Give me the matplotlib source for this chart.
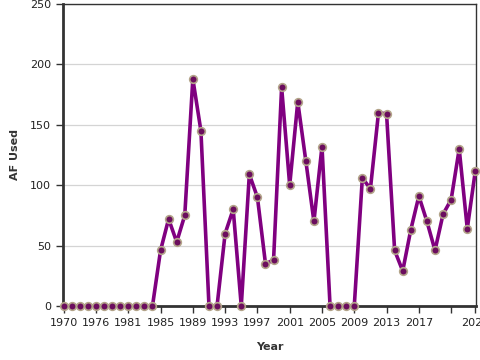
import matplotlib
matplotlib.use('Agg')
import matplotlib.pyplot as plt

years = [1970, 1972, 1974, 1975, 1976, 1977, 1978, 1980, 1981, 1982, 1983, 1984] + list(range(1985, 2025))
af_used = [0, 0, 0, 0, 0, 0, 0, 0, 0, 0, 0, 0,
           46, 72, 53, 75, 188, 145, 0, 0, 60, 80,
           0, 109, 90, 35, 38, 181, 100, 169, 120, 70,
           132, 0, 0, 0, 0, 106, 97, 160, 159, 46,
           29, 63, 91, 70, 46, 76, 88, 130, 64, 112]

fig = plt.figure(figsize=(4.8, 3.6), dpi=100)
ax = fig.add_axes([0.131, 0.15, 0.861, 0.839])

x = list(range(len(years)))
ax.plot(x, af_used, color='#800080', linewidth=2.6, zorder=3,
        marker='o', markersize=5.5, markerfacecolor='#6b0d5e',
        markeredgecolor='#b3a48a', markeredgewidth=1.2, clip_on=False)

ax.set_xlim(-0.1, len(years) - 0.9)
ax.set_ylim(0, 250)
ax.set_yticks([0, 50, 100, 150, 200, 250])
ax.grid(axis='y', color='#d4d4d4', linewidth=0.9)
ax.set_axisbelow(True)

ticks = list(range(0, len(years), 4)) + [len(years) - 1]
labels = [str(years[i]) for i in ticks]
labels[-2] = ''
ax.set_xticks(ticks)
ax.set_xticklabels(labels)

ax.tick_params(axis='both', labelsize=8, length=5, width=1, color='#333333', labelcolor='#222222')
for side in ['left', 'bottom']:
    ax.spines[side].set_linewidth(2)
    ax.spines[side].set_color('#333333')
for side in ['top', 'right']:
    ax.spines[side].set_linewidth(1)
    ax.spines[side].set_color('#333333')

ax.set_xlabel('Year', fontsize=8, fontweight='bold', color='#333333', labelpad=10)
ax.set_ylabel('AF Used', fontsize=8, fontweight='bold', color='#333333', labelpad=7)

fig.savefig('out.png', dpi=100)
